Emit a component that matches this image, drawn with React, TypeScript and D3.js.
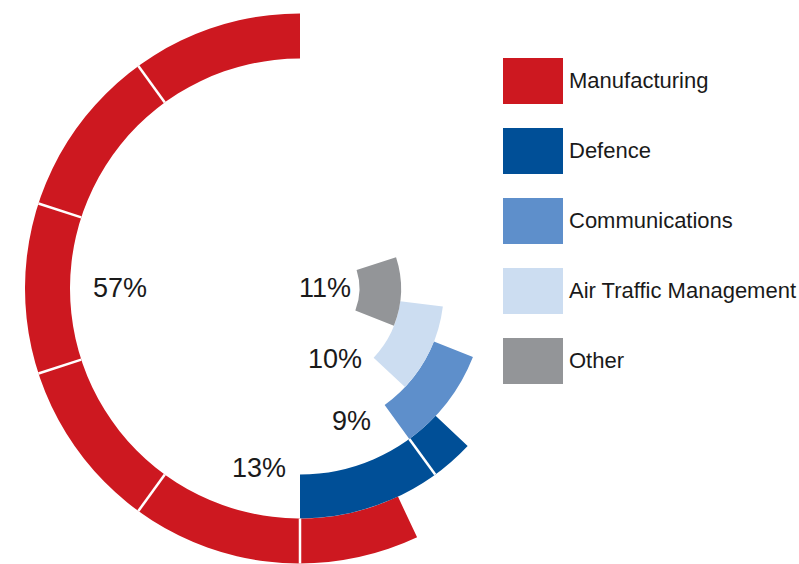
import React from "react";
import * as d3 from "d3";

// ---- data ----
const categories = ["Manufacturing", "Defence", "Communications", "Air Traffic Management", "Other"];
const values = [57, 13, 9, 10, 11];
const valueLabels = ["57%", "13%", "9%", "10%", "11%"];
// share (in %) at which each ring begins, counter-clockwise from 12 o'clock
const startShares = [0, 50, 60, 63, 69];
const colors = ["#CD1820", "#004F97", "#5E8FCB", "#CCDDF1", "#939598"];

// ---- layout ----
const W = 799;
const H = 564;
const CX = 300;
const CY = 288.5;
const ringEdges = [275, 230, 186, 144, 101, 59.5];
const dividedRings = [true, true, false, false, false];
const labelPos = [
  { x: 147, y: 297 },
  { x: 286, y: 477 },
  { x: 371, y: 430 },
  { x: 362, y: 368 },
  { x: 351, y: 297 },
];
const FONT = "'Liberation Sans', Arial, Helvetica, sans-serif";

export default function App() {
  const angle = d3.scaleLinear().domain([0, 100]).range([0, -2 * Math.PI]);
  const arc = d3.arc<any>();

  const rings = categories.map((c, i) => {
    const s = startShares[i];
    const e = s + values[i];
    const inner = ringEdges[i + 1];
    const outer = ringEdges[i];
    const path = arc({ innerRadius: inner, outerRadius: outer, startAngle: angle(s), endAngle: angle(e) });
    const dividers: number[] = [];
    if (dividedRings[i]) {
      for (let t = s + 10; t < e - 0.01; t += 10) dividers.push(t);
    }
    return { c, i, path, inner, outer, dividers };
  });

  const legendY = d3.scaleBand().domain(categories).range([58, 58 + 70 * categories.length]);

  return (
    <svg width={W} height={H} style={{ position: "absolute", left: 0, top: 0, background: "#fff" }}>
      <g transform={`translate(${CX},${CY})`}>
        {rings.map((r) => (
          <path key={r.c} d={r.path || ""} fill={colors[r.i]} />
        ))}
        {rings.map((r) =>
          r.dividers.map((t) => {
            const a = angle(t);
            return (
              <line
                key={r.c + t}
                x1={r.inner * Math.sin(a)}
                y1={-r.inner * Math.cos(a)}
                x2={r.outer * Math.sin(a)}
                y2={-r.outer * Math.cos(a)}
                stroke="#fff"
                strokeWidth={2.5}
              />
            );
          })
        )}
      </g>
      {valueLabels.map((l, i) => (
        <text
          key={l + i}
          x={labelPos[i].x}
          y={labelPos[i].y}
          textAnchor="end"
          fontFamily={FONT}
          fontSize={27}
          fill="#1a1a1a"
        >
          {l}
        </text>
      ))}
      {categories.map((c, i) => (
        <g key={c} transform={`translate(503,${legendY(c)})`}>
          <rect width={60} height={46} fill={colors[i]} />
          <text x={66} y={30} fontFamily={FONT} fontSize={22} fill="#1a1a1a">
            {c}
          </text>
        </g>
      ))}
    </svg>
  );
}
